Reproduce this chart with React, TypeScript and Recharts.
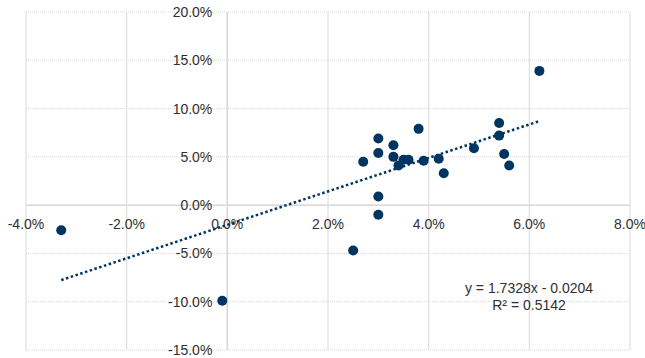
import React from 'react';
import { ScatterChart, Scatter, XAxis, YAxis, CartesianGrid, ReferenceLine, ReferenceDot } from 'recharts';

// values (fractions, shown as %)
const xValues = [6.2, 5.4, 5.4, 5.5, 5.6, 4.9, 4.2, 4.3, 3.9, 3.8, 3.6, 3.5, 3.4, 3.3, 3.3, 3.0, 3.0, 2.7, 3.0, 3.0, 2.5, -3.3, -0.1];
const yValues = [13.9, 8.5, 7.2, 5.3, 4.1, 5.9, 4.8, 3.3, 4.6, 7.9, 4.7, 4.7, 4.1, 5.0, 6.2, 6.9, 5.4, 4.5, 0.9, -1.0, -4.7, -2.6, -9.9];

const xTicks = [-0.04, -0.02, 0, 0.02, 0.04, 0.06, 0.08];
const yTicks = [-0.15, -0.1, -0.05, 0, 0.05, 0.1, 0.15, 0.2];

// trendline from the label in the chart
const slope = 1.7328;
const intercept = -0.0204;
const rSquared = 0.5142;

const points = xValues.map((x, i) => ({ x: x / 100, y: yValues[i] / 100 }));
const xMin = Math.min(...points.map(p => p.x));
const xMax = Math.max(...points.map(p => p.x));
const trend = [
    { x: xMin, y: slope * xMin + intercept },
    { x: xMax, y: slope * xMax + intercept },
];

const DOT = '#003562';
const GRID = '#d9d9d9';
const TEXT = '#303030';
const FONT = '"Liberation Sans", Arial, sans-serif';
const pct = (v: number) => `${(v * 100).toFixed(1)}%`;

const XTickLabel = (props: any) => {
    const { viewBox, value } = props;
    return (
        <text x={viewBox.x} y={viewBox.y + 24} textAnchor="middle" fontSize={14} fontFamily={FONT} fill={TEXT}>
            {value}
        </text>
    );
};

const YTickLabel = (props: any) => {
    const { viewBox, value } = props;
    return (
        <text x={viewBox.x - 15} y={viewBox.y + 5} textAnchor="end" fontSize={14} fontFamily={FONT} fill={TEXT}>
            {value}
        </text>
    );
};

export default function App() {
    return (
        <div style={{ position: 'absolute', left: 0, top: 0, width: 645, height: 358, background: '#fff' }}>
            <ScatterChart width={645} height={358} margin={{ top: 12, right: 15, bottom: 8, left: 26 }}>
                <XAxis type="number" dataKey="x" domain={[-0.04, 0.08]} ticks={xTicks} hide />
                <YAxis type="number" dataKey="y" domain={[-0.15, 0.2]} ticks={yTicks} hide />
                <CartesianGrid vertical={false} stroke={GRID} strokeDasharray="1 1" />
                <CartesianGrid horizontal={false} stroke={GRID} />
                <ReferenceLine y={0} stroke={GRID} strokeWidth={1.5} />
                <ReferenceLine x={0} stroke={GRID} strokeWidth={1.5} />
                {yTicks.map(t => (
                    <ReferenceDot key={'y' + t} x={0} y={t} r={0} stroke="none" fill="none"
                        label={(p: any) => <YTickLabel {...p} value={pct(t)} />} />
                ))}
                {xTicks.map(t => (
                    <ReferenceDot key={'x' + t} x={t} y={0} r={0} stroke="none" fill="none"
                        label={(p: any) => <XTickLabel {...p} value={pct(t)} />} />
                ))}
                <ReferenceLine segment={trend} stroke={DOT} strokeWidth={2.5} strokeDasharray="2.5 2.5" />
                <Scatter data={points} fill={DOT} isAnimationActive={false}
                    shape={(p: any) => <circle cx={p.cx} cy={p.cy} r={5} fill={DOT} />} />
            </ScatterChart>
            <div style={{ position: 'absolute', left: 429, top: 280, width: 200, textAlign: 'center', fontFamily: FONT, fontSize: 14, lineHeight: '17px', color: TEXT }}>
                <div>y = {slope}x - {Math.abs(intercept)}</div>
                <div>R² = {rSquared}</div>
            </div>
        </div>
    );
}
